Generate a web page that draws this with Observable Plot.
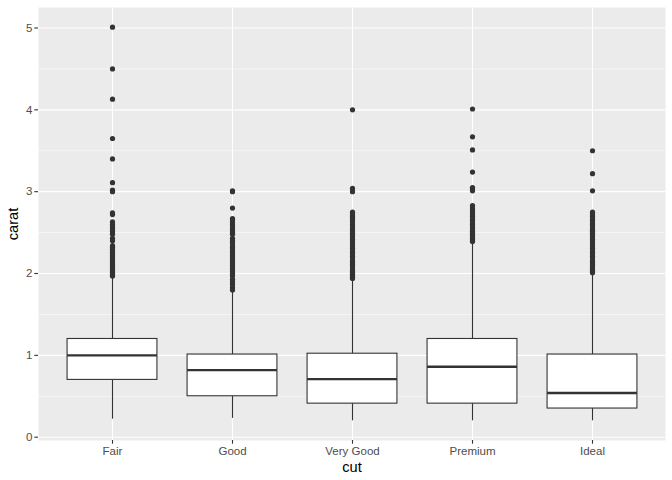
<!DOCTYPE html>
<html>
<head>
<meta charset="utf-8">
<script src="https://cdn.jsdelivr.net/npm/d3@7"></script>
<script src="https://cdn.jsdelivr.net/npm/@observablehq/plot@0.6"></script>
<style>
  html, body { margin: 0; padding: 0; background: white; }
</style>
</head>
<body>
<div id="chart"></div>
<script>
const cuts = ["Fair", "Good", "Very Good", "Premium", "Ideal"];
const lowerWhisker = [0.22, 0.23, 0.20, 0.20, 0.20];
const q1 = [0.70, 0.50, 0.41, 0.41, 0.35];
const median = [1.00, 0.82, 0.71, 0.86, 0.54];
const q3 = [1.20, 1.01, 1.02, 1.20, 1.01];
const upperWhisker = [1.95, 1.77, 1.93, 2.38, 2.00];

const outliersFair = [5.01, 4.50, 4.13, 3.65, 3.40, 3.11, 3.02, 3.01, 3.00, 2.74, 2.72, 2.63, 2.60, 2.57, 2.55, 2.52, 2.51, 2.48, 2.43, 2.40, 2.34, 2.32, 2.30, 2.28, 2.26, 2.24, 2.22, 2.20, 2.18, 2.16, 2.14, 2.12, 2.10, 2.08, 2.06, 2.04, 2.02, 2.01, 2.00, 1.98, 1.97];
const outliersGood = [3.01, 3.00, 2.80, 2.67, 2.66, 2.63, 2.60, 2.57, 2.54, 2.51, 2.50, 2.48, 2.43, 2.40, 2.38, 2.35, 2.32, 2.30, 2.27, 2.25, 2.22, 2.20, 2.17, 2.15, 2.12, 2.10, 2.07, 2.05, 2.02, 2.00, 1.97, 1.93, 1.90, 1.87, 1.83, 1.80];
const outliersVeryGood = [4.00, 3.04, 3.00, 2.75, 2.72, 2.70, 2.68, 2.66, 2.63, 2.60, 2.57, 2.54, 2.51, 2.50, 2.48, 2.45, 2.42, 2.40, 2.37, 2.34, 2.31, 2.29, 2.26, 2.23, 2.21, 2.18, 2.15, 2.12, 2.10, 2.07, 2.04, 2.02, 2.01, 2.00, 1.98, 1.96, 1.95, 1.94];
const outliersPremium = [4.01, 3.67, 3.51, 3.24, 3.05, 3.04, 3.01, 2.83, 2.80, 2.77, 2.75, 2.72, 2.70, 2.67, 2.65, 2.62, 2.60, 2.57, 2.55, 2.52, 2.51, 2.50, 2.48, 2.46, 2.44, 2.42, 2.40, 2.39];
const outliersIdeal = [3.50, 3.22, 3.01, 2.75, 2.72, 2.70, 2.67, 2.65, 2.62, 2.60, 2.57, 2.54, 2.52, 2.51, 2.50, 2.48, 2.45, 2.42, 2.40, 2.37, 2.34, 2.31, 2.29, 2.26, 2.23, 2.21, 2.18, 2.15, 2.12, 2.10, 2.07, 2.05, 2.03, 2.02, 2.01];
const outlierLists = [outliersFair, outliersGood, outliersVeryGood, outliersPremium, outliersIdeal];

const yTicks = [0, 1, 2, 3, 4, 5];
const yMinor = [0.5, 1.5, 2.5, 3.5, 4.5];

const stats = cuts.map((c, i) => ({
  cut: c, lo: lowerWhisker[i], q1: q1[i], med: median[i], q3: q3[i], hi: upperWhisker[i]
}));
const outliers = cuts.flatMap((c, i) => outlierLists[i].map(v => ({cut: c, carat: v})));

const W = 672, H = 480, ML = 38, MR = 7, MT = 7, MB = 40;
const bw = (W - ML - MR) / 5.2;
const inset = bw * 0.125;
const dataMin = 0.20, dataMax = 5.01, ex = (dataMax - dataMin) * 0.05;

const ink = "#333333";

const chart = Plot.plot({
  width: W, height: H,
  marginLeft: ML, marginRight: MR, marginTop: MT, marginBottom: MB,
  style: {fontFamily: "'Liberation Sans', Arial, Helvetica, sans-serif", background: "white", overflow: "visible"},
  x: {domain: cuts, paddingInner: 0, paddingOuter: 0.1, axis: null},
  y: {domain: [dataMin - ex, dataMax + ex], axis: null},
  marks: [
    Plot.frame({fill: "#EBEBEB", stroke: null}),
    Plot.ruleY(yMinor, {stroke: "white", strokeWidth: 0.55}),
    Plot.ruleY(yTicks, {stroke: "white", strokeWidth: 1.1}),
    Plot.ruleX(cuts, {x: d => d, stroke: "white", strokeWidth: 1.1}),
    Plot.ruleX(stats, {x: "cut", y1: "lo", y2: "q1", stroke: ink, strokeWidth: 1.1}),
    Plot.ruleX(stats, {x: "cut", y1: "q3", y2: "hi", stroke: ink, strokeWidth: 1.1}),
    Plot.barY(stats, {x: "cut", y1: "q1", y2: "q3", fill: "white", stroke: ink, strokeWidth: 1.1, insetLeft: inset, insetRight: inset}),
    Plot.tickY(stats, {x: "cut", y: "med", stroke: ink, strokeWidth: 2.4, insetLeft: inset, insetRight: inset}),
    Plot.dot(outliers, {x: "cut", y: "carat", r: 2.6, fill: ink, stroke: null}),
    Plot.axisY({ticks: yTicks, tickFormat: d => String(d), tickSize: 3.7, tickPadding: 2.4, fontSize: 11.5, fill: "#4D4D4D", stroke: ink, strokeWidth: 1.1, label: null}),
    Plot.axisX({tickSize: 3.7, tickPadding: 2.2, fontSize: 11.5, fill: "#4D4D4D", stroke: ink, strokeWidth: 1.1, label: null}),
    Plot.text(["carat"], {text: d => d, frameAnchor: "left", dx: -25, rotate: -90, textAnchor: "middle", lineAnchor: "middle", fontSize: 14.6, fill: "black"}),
    Plot.text(["cut"], {text: d => d, frameAnchor: "bottom", dy: 27, textAnchor: "middle", lineAnchor: "middle", fontSize: 14.6, fill: "black"})
  ]
});
document.getElementById("chart").appendChild(chart);
</script>
</body>
</html>
